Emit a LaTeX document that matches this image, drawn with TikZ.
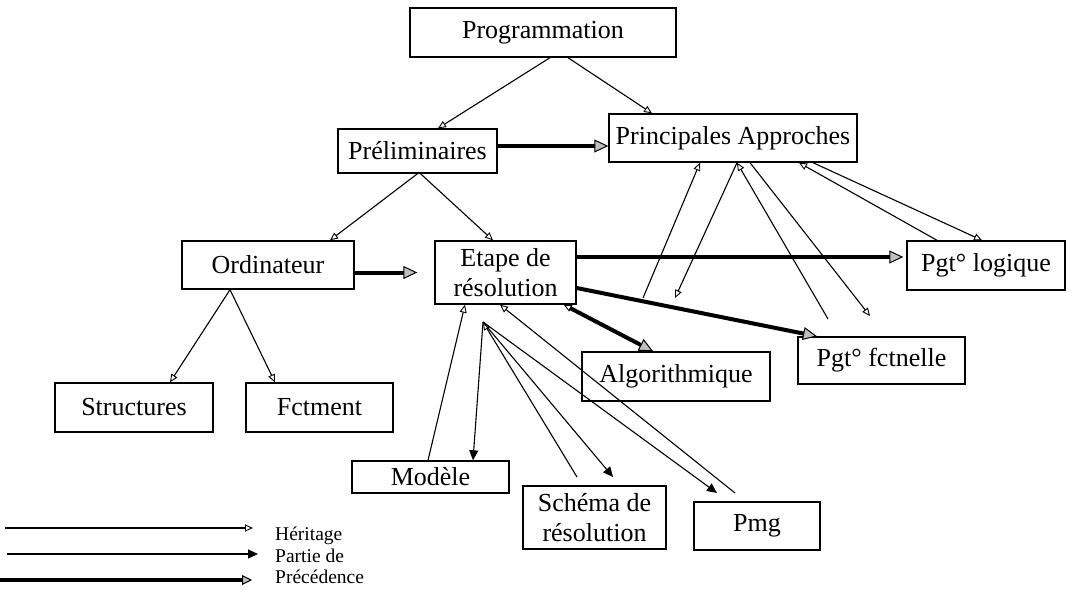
\documentclass[tikz,border=0pt]{standalone}
\usepackage{fontspec}
\setmainfont{Liberation Serif}
\usetikzlibrary{arrows.meta}
\tikzset{
  box/.style={draw, line width=1.4pt, inner sep=0pt, align=center,
    font=\fontsize{26}{30}\selectfont},
  herit/.style={line width=1.1pt, -{Triangle[open,length=8pt,width=7pt,line width=0.9pt]}},
  partof/.style={line width=1.1pt, -{Triangle[length=10pt,width=9pt]}},
  prec/.style={line width=4pt, -{Triangle[open,length=14pt,width=13pt,line width=1pt,fill=black!25]}},
  legtext/.style={anchor=base west, inner sep=0pt, font=\fontsize{19.5}{22}\selectfont}
}
\begin{document}
\begin{tikzpicture}[x=1pt,y=-1pt]
\useasboundingbox[fill=white] (0,0) rectangle (1073,589);

% nodes
\node[box, minimum width=266pt, minimum height=49pt] (prog) at (543,32.5) {Programmation};
\node[box, minimum width=159pt, minimum height=44pt] (prel) at (417.5,151) {Préliminaires};
\node[box, minimum width=248pt, minimum height=48pt] (pa) at (733,138) {Principales Approches};
\node[box, minimum width=172pt, minimum height=48pt] (ordi) at (268,265) {Ordinateur};
\node[box, minimum width=141pt, minimum height=63pt] (etape) at (505.5,272.5) {Etape de\\résolution};
\node[box, minimum width=158pt, minimum height=49pt] (logique) at (986,265.5) {Pgt° logique};
\node[box, minimum width=167pt, minimum height=47pt] (fct) at (881.5,360.5) {Pgt° fctnelle};
\node[box, minimum width=188pt, minimum height=49pt] (algo) at (676,376.5) {Algorithmique};
\node[box, minimum width=158pt, minimum height=49pt] (struct) at (134,407.5) {Structures};
\node[box, minimum width=147pt, minimum height=49pt] (fctment) at (319.5,407.5) {Fctment};
\node[box, minimum width=157pt, minimum height=32pt] (modele) at (430.5,477) {Modèle};
\node[box, minimum width=143pt, minimum height=63pt] (schema) at (594.5,517.5) {Schéma de\\résolution};
\node[box, minimum width=126pt, minimum height=48pt] (pmg) at (757,526) {Pmg};

% free end points
\coordinate (onfct) at (643,298);
\coordinate (pad1) at (675,298);
\coordinate (fc1) at (828,319);
\coordinate (fc2) at (870,316);
\coordinate (clu) at (483,322);
\coordinate (sl) at (577,477);
\coordinate (sr) at (613,477);
\coordinate (pl) at (717,493);
\coordinate (pr) at (735,493);

% heritage (tree)
\draw[herit] ([xshift=7pt]prog.south) -- ([xshift=20.5pt]prel.north);
\draw[herit] ([xshift=25pt]prog.south) -- ([xshift=-81pt]pa.north);
\draw[herit] (prel.south) -- ([xshift=62pt]ordi.north);
\draw[herit] ([xshift=3pt]prel.south) -- ([xshift=-12.5pt]etape.north);
\draw[herit] ([xshift=-38pt]ordi.south) -- ([xshift=36pt]struct.north);
\draw[herit] ([xshift=-38pt]ordi.south) -- ([xshift=-44.5pt]fctment.north);

% precedence
\draw[prec] ([yshift=5pt]prel.east) -- ([yshift=-8pt]pa.west);
\draw[prec, shorten >=17pt] (ordi.east |- etape.west) -- (etape.west);
\draw[prec, shorten >=3pt] ([yshift=15.5pt]etape.east) -- ([yshift=8.5pt]logique.west);
\draw[prec] ([yshift=-15.5pt]etape.east) -- ([xshift=-64.5pt]fct.north);
\draw[herit] ([xshift=-23pt]algo.north) -- ([xshift=-13pt]etape.south east);
\draw[prec, shorten <=7pt] ([xshift=-13pt]etape.south east) -- ([xshift=-23pt]algo.north);

% heritage towards Principales Approches
\draw[herit] (onfct) -- ([xshift=-33pt]pa.south);
\draw[herit] ([xshift=4pt]pa.south) -- (pad1);
\draw[herit] (fc1) -- ([xshift=4pt]pa.south);
\draw[herit] ([xshift=17pt]pa.south) -- (fc2);
\draw[herit] ([xshift=-49pt]logique.north) -- ([xshift=66pt]pa.south);
\draw[herit] ([xshift=80pt]pa.south) -- ([xshift=-4pt]logique.north);

% links under Etape de resolution
\draw[herit] ([xshift=-2.5pt]modele.north) -- ([xshift=-40.5pt]etape.south);
\draw[partof] (clu) -- ([xshift=42.5pt]modele.north);
\draw[herit] (sl) -- (clu);
\draw[partof] (clu) -- (sr);
\draw[partof] (clu) -- (pl);
\draw[herit] (pr) -- ([xshift=-5.5pt]etape.south);

% legend
\coordinate (l1a) at (5,528);  \coordinate (l1b) at (253,528);
\coordinate (l2a) at (7,554);  \coordinate (l2b) at (258,554);
\coordinate (l3a) at (0,580);  \coordinate (l3b) at (252,580);
\draw[herit] (l1a) -- (l1b);
\draw[partof] (l2a) -- (l2b);
\draw[prec, -{Triangle[open,length=10pt,width=10pt,line width=1pt,fill=black!25]}] (l3a) -- (l3b);
\node[legtext] (lh) at (275,540) {Héritage};
\node[legtext] (lp) at (275,562) {Partie de};
\node[legtext] (lc) at (275,583) {Précédence};
\end{tikzpicture}
\end{document}
